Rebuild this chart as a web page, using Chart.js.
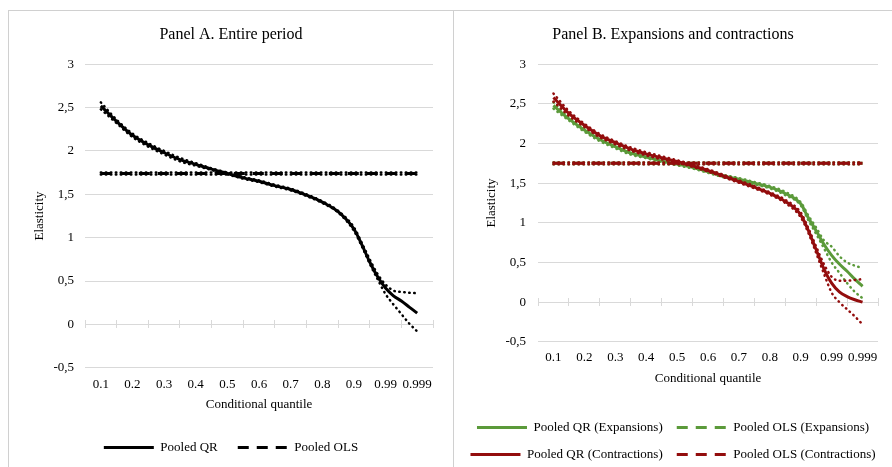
<!DOCTYPE html>
<html>
<head>
<meta charset="utf-8">
<script src="https://cdn.jsdelivr.net/npm/chart.js@4.4.1/dist/chart.umd.min.js"></script>
<style>
  html, body { margin: 0; padding: 0; background: #fff; }
  body { width: 892px; height: 467px; position: relative; overflow: hidden; }
  .frame { position: absolute; left: 8px; top: 10px; width: 884px; height: 457px;
           border-top: 1px solid #d0d0d0; border-left: 1px solid #d0d0d0; }
  .sep { position: absolute; left: 453px; top: 10px; width: 1px; height: 457px; background: #d0d0d0; }
  canvas { position: absolute; }
  #panelA { left: 9px; top: 11px; }
  #panelB { left: 454px; top: 11px; }
</style>
</head>
<body>
<div class="frame"></div>
<div class="sep"></div>
<canvas id="panelA" width="444" height="456"></canvas>
<canvas id="panelB" width="438" height="461"></canvas>
<script>
// category labels on the quantile axis
var xLabels = ["0.1", "0.2", "0.3", "0.4", "0.5", "0.6", "0.7", "0.8", "0.9", "0.99", "0.999"];

// position of each estimate along the category axis (0 = "0.1", 10 = "0.999")
var qPos = [0, 0.5, 1, 1.5, 2, 2.5, 3, 3.5, 4, 4.5, 5, 5.5, 6, 6.5, 7, 7.5, 8, 8.25, 8.5, 8.75, 9, 9.25, 9.5, 9.75, 10];
var olsPos = [0, 10];

// Panel A: entire period
var qrAll   = [2.52, 2.34, 2.18, 2.07, 1.98, 1.90, 1.845, 1.79, 1.74, 1.69, 1.65, 1.60, 1.555, 1.49, 1.41, 1.30, 1.10, 0.92, 0.72, 0.55, 0.42, 0.33, 0.27, 0.20, 0.13];
var qrAllHi = [2.56, 2.36, 2.20, 2.09, 2.00, 1.92, 1.86, 1.80, 1.75, 1.70, 1.66, 1.61, 1.565, 1.50, 1.42, 1.31, 1.12, 0.94, 0.75, 0.58, 0.46, 0.39, 0.375, 0.365, 0.36];
var qrAllLo = [2.48, 2.32, 2.16, 2.05, 1.96, 1.88, 1.83, 1.78, 1.73, 1.68, 1.64, 1.59, 1.545, 1.48, 1.40, 1.29, 1.08, 0.90, 0.70, 0.52, 0.35, 0.23, 0.12, 0.01, -0.08];
var olsAll   = [1.74, 1.74];
var olsAllHi = [1.752, 1.752];
var olsAllLo = [1.728, 1.728];

// Panel B: expansions
var qrExp   = [2.48, 2.31, 2.17, 2.05, 1.96, 1.88, 1.83, 1.78, 1.74, 1.70, 1.645, 1.59, 1.55, 1.50, 1.45, 1.37, 1.24, 1.06, 0.90, 0.73, 0.59, 0.48, 0.39, 0.29, 0.20];
var qrExpHi = [2.52, 2.33, 2.19, 2.07, 1.98, 1.90, 1.845, 1.795, 1.755, 1.715, 1.66, 1.605, 1.565, 1.515, 1.465, 1.39, 1.26, 1.09, 0.94, 0.78, 0.70, 0.58, 0.50, 0.46, 0.43];
var qrExpLo = [2.44, 2.29, 2.15, 2.03, 1.94, 1.86, 1.815, 1.765, 1.725, 1.685, 1.63, 1.575, 1.535, 1.485, 1.435, 1.35, 1.22, 1.03, 0.86, 0.68, 0.50, 0.37, 0.24, 0.13, 0.05];
var olsExp   = [1.75, 1.75];
var olsExpHi = [1.762, 1.762];
var olsExpLo = [1.738, 1.738];

// Panel B: contractions
var qrCon   = [2.58, 2.38, 2.23, 2.10, 2.01, 1.93, 1.87, 1.82, 1.775, 1.72, 1.66, 1.59, 1.52, 1.45, 1.37, 1.27, 1.10, 0.90, 0.66, 0.42, 0.24, 0.13, 0.07, 0.03, 0.00];
var qrConHi = [2.63, 2.41, 2.25, 2.12, 2.03, 1.95, 1.89, 1.84, 1.79, 1.735, 1.675, 1.605, 1.535, 1.465, 1.385, 1.29, 1.13, 0.93, 0.70, 0.48, 0.32, 0.27, 0.27, 0.28, 0.29];
var qrConLo = [2.53, 2.35, 2.21, 2.08, 1.99, 1.91, 1.85, 1.80, 1.76, 1.705, 1.645, 1.575, 1.505, 1.435, 1.355, 1.25, 1.07, 0.87, 0.62, 0.36, 0.12, 0.00, -0.09, -0.18, -0.28];
var olsCon   = [1.75, 1.75];
var olsConHi = [1.762, 1.762];
var olsConLo = [1.738, 1.738];

var SERIF = "'Liberation Serif', 'Times New Roman', serif";
var BLACK = "#000000";
var GREEN = "#5b9a3a";
var RED = "#930d0d";
var GRID = "#d9d9d9";

function pts(xs, ys) {
  return ys.map(function (v, i) {
    return { x: xs[i] + 0.5, y: v };
  });
}

function solid(label, xs, ys, color, order) {
  return {
    label: label, data: pts(xs, ys), borderColor: color, backgroundColor: color,
    borderWidth: 3, pointRadius: 0, cubicInterpolationMode: "monotone", order: order
  };
}

function dashed(label, xs, ys, color, order) {
  return {
    label: label, data: pts(xs, ys), borderColor: color, backgroundColor: color,
    borderWidth: 3, borderDash: [11, 8], pointRadius: 0, order: order
  };
}

function dotted(xs, ys, color, order) {
  return {
    label: "ci", ci: true, data: pts(xs, ys), borderColor: color, backgroundColor: color,
    borderWidth: 2.5, borderDash: [0.5, 4.5], borderCapStyle: "round",
    pointRadius: 0, cubicInterpolationMode: "monotone", order: order
  };
}

function tickAxis(len) {
  return {
    type: "linear", min: 0, max: 11, position: { y: 0 },
    ticks: { display: false, stepSize: 1 },
    grid: { drawOnChartArea: false, drawTicks: true, tickLength: len, color: GRID, lineWidth: 1 },
    border: { display: false }
  };
}

function legendLabels(chart) {
  var items = Chart.defaults.plugins.legend.labels.generateLabels(chart);
  items.forEach(function (it) {
    var ds = chart.data.datasets[it.datasetIndex];
    it.lineDash = ds.borderDash || [];
    it.lineWidth = 3;
    it.strokeStyle = ds.borderColor;
  });
  return items;
}

function makeChart(id, title, datasets, lay) {
  var ctx = document.getElementById(id);
  var f13 = { family: SERIF, size: 13 };
  return new Chart(ctx, {
    type: "line",
    data: { datasets: datasets },
    options: {
      responsive: false,
      animation: false,
      layout: { padding: { left: 0, right: 0, top: 0, bottom: lay.bottom } },
      plugins: {
        title: {
          display: true, text: title, color: BLACK,
          font: { family: SERIF, size: 16, weight: "normal" },
          padding: { top: 14, bottom: 20 }
        },
        legend: {
          position: "bottom",
          labels: {
            usePointStyle: true, pointStyle: "line", pointStyleWidth: 50,
            color: BLACK, font: f13, padding: lay.legendPad,
            generateLabels: legendLabels,
            filter: function (item, data) { return !data.datasets[item.datasetIndex].ci; },
            sort: function (a, b) { return a.datasetIndex - b.datasetIndex; }
          }
        },
        tooltip: { enabled: false }
      },
      scales: {
        x: tickAxis(4),
        xUp: tickAxis(-4),
        xLab: {
          type: "category", labels: xLabels, offset: true, position: "bottom",
          grid: { display: false, drawTicks: false }, border: { display: false },
          ticks: { color: BLACK, font: f13, maxRotation: 0, autoSkip: false, padding: lay.xPad },
          title: { display: true, text: "Conditional quantile", color: BLACK, font: f13,
                   padding: { top: lay.xTitleTop, bottom: lay.xTitleBottom } }
        },
        y: {
          min: -0.5, max: 3,
          ticks: {
            stepSize: 0.5, color: BLACK, font: f13, padding: lay.yPad,
            callback: function (v) { return String(v).replace(".", ","); }
          },
          grid: { color: GRID, drawTicks: false },
          border: { display: false },
          title: { display: true, text: "Elasticity", color: BLACK, font: f13, padding: { top: lay.yTitle, bottom: 0 } },
          afterFit: function (s) { s.width = lay.leftW; }
        },
        yR: {
          position: "right", min: -0.5, max: 3,
          ticks: { display: false }, grid: { display: false }, border: { display: false },
          afterFit: function (s) { s.width = lay.rightW; }
        }
      }
    }
  });
}

makeChart("panelA", "Panel A. Entire period", [
  solid("Pooled QR", qPos, qrAll, BLACK, 1),
  dashed("Pooled OLS", olsPos, olsAll, BLACK, 1),
  dotted(qPos, qrAllHi, BLACK, 1),
  dotted(qPos, qrAllLo, BLACK, 1),
  dotted(olsPos, olsAllHi, BLACK, 1),
  dotted(olsPos, olsAllLo, BLACK, 1)
], { leftW: 76, rightW: 20, bottom: 3, legendPad: 20, xPad: 9, xTitleTop: -5, xTitleBottom: 9, yPad: 11, yTitle: 23 });

makeChart("panelB", "Panel B. Expansions and contractions", [
  solid("Pooled QR (Expansions)", qPos, qrExp, GREEN, 2),
  dashed("Pooled OLS (Expansions)", olsPos, olsExp, GREEN, 2),
  solid("Pooled QR (Contractions)", qPos, qrCon, RED, 1),
  dashed("Pooled OLS (Contractions)", olsPos, olsCon, RED, 1),
  dotted(qPos, qrExpHi, GREEN, 2),
  dotted(qPos, qrExpLo, GREEN, 2),
  dotted(qPos, qrConHi, RED, 1),
  dotted(qPos, qrConLo, RED, 1),
  dotted(olsPos, olsExpHi, GREEN, 2),
  dotted(olsPos, olsExpLo, GREEN, 2),
  dotted(olsPos, olsConHi, RED, 1),
  dotted(olsPos, olsConLo, RED, 1)
], { leftW: 84, rightW: 14, bottom: 1, legendPad: 14, xPad: 8, xTitleTop: -3, xTitleBottom: 21, yPad: 12, yTitle: 30 });
</script>
</body>
</html>
